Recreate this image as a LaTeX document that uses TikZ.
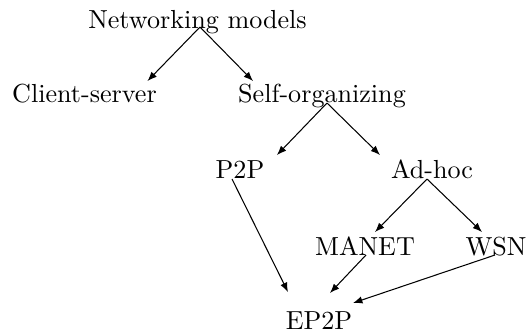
\documentclass[tikz,border=0pt]{standalone}
\usetikzlibrary{arrows.meta}
\begin{document}
\begin{tikzpicture}[x=0.3831pt,y=-0.3831pt,
  lbl/.style={anchor=base,inner sep=0pt},
  link/.style={draw,line width=0.4pt,-{Latex[length=3.6pt,width=2.8pt]}}]
\useasboundingbox (0,0) rectangle (526,333);
% taxonomy labels
\node[lbl] (nm)  at (197.5,28) {Networking models};
\node[lbl] (cs)  at (84.5,102) {Client-server};
\node[lbl] (so)  at (322,102)  {Self-organizing};
\node[lbl] (p2p) at (240,178)  {P2P};
\node[lbl] (ah)  at (432,178)  {Ad-hoc};
\node[lbl] (ma)  at (365,255)  {MANET};
\node[lbl] (wsn) at (496,255)  {WSN};
\node[lbl] (ep)  at (319,329)  {EP2P};
% links between categories
\path[link] ([shift={(2.5,-1)}]nm.base) -- ([shift={(63,-21)}]cs.base);
\path[link] ([shift={(2.5,-1)}]nm.base) -- ([shift={(-69,-21)}]so.base);
\path[link] ([shift={(5,1)}]so.base) -- ([shift={(37,-23)}]p2p.base);
\path[link] ([shift={(5,1)}]so.base) -- ([shift={(-52,-23)}]ah.base);
\path[link] ([shift={(-5,1)}]ah.base) -- ([shift={(10,-23)}]ma.base);
\path[link] ([shift={(-5,1)}]ah.base) -- ([shift={(-14,-23)}]wsn.base);
\path[link] ([shift={(-8,1)}]p2p.base) -- ([shift={(-31,-37)}]ep.base);
\path[link] ([shift={(1,0)}]ma.base) -- ([shift={(11,-36)}]ep.base);
\path[link] ([shift={(-1,0)}]wsn.base) -- ([shift={(34,-26)}]ep.base);
\end{tikzpicture}
\end{document}
